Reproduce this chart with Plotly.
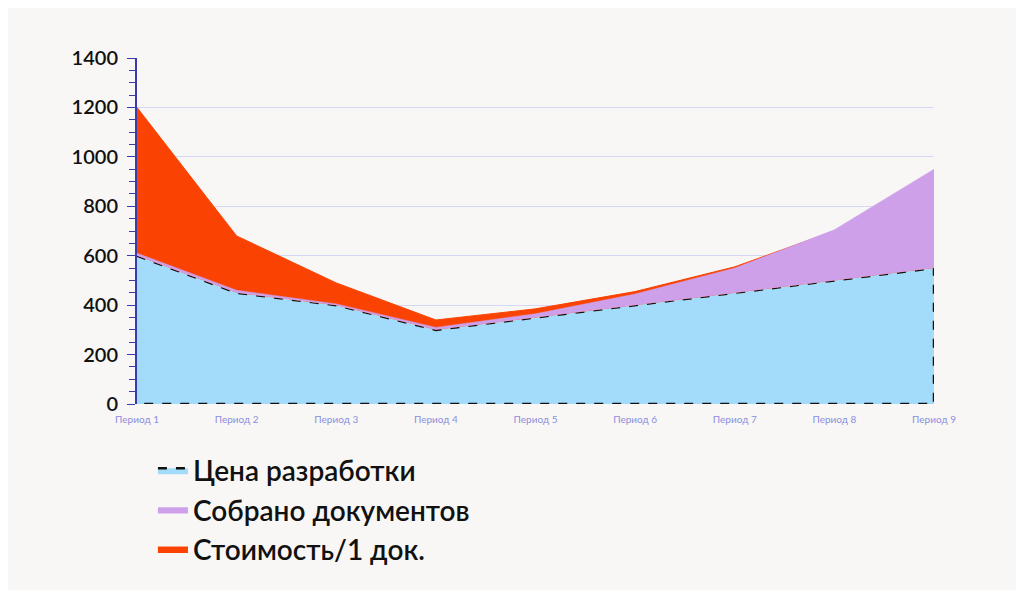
import plotly.graph_objects as go

periods = ["Период 1", "Период 2", "Период 3", "Период 4", "Период 5",
           "Период 6", "Период 7", "Период 8", "Период 9"]
price = [600, 450, 400, 300, 350, 400, 450, 500, 550]
cost_top = [1200, 680, 490, 340, 385, 455, 555, 700, 550]
docs_top = [610, 460, 405, 310, 365, 445, 550, 705, 950]

fig = go.Figure()

# blue area, closed along the bottom so the dashed outline goes all the way round
fig.add_trace(go.Scatter(
    x=periods + [periods[-1], periods[0]], y=price + [0, 0],
    fill="toself", fillcolor="#a3dcfa", mode="lines",
    line=dict(color="#111111", width=2.5, dash="dash"),
    name="Цена разработки", legendrank=1))

# red on blue
fig.add_trace(go.Scatter(x=periods, y=price, mode="lines", line=dict(width=0),
                         showlegend=False, hoverinfo="skip"))
fig.add_trace(go.Scatter(x=periods, y=cost_top, mode="lines", fill="tonexty",
                         fillcolor="#fa4303", line=dict(color="#fa4303", width=1),
                         name="Стоимость/1 док.", legendrank=3))

# purple on blue, drawn on top
fig.add_trace(go.Scatter(x=periods, y=price, mode="lines", line=dict(width=0),
                         showlegend=False, hoverinfo="skip"))
fig.add_trace(go.Scatter(x=periods, y=docs_top, mode="lines", fill="tonexty",
                         fillcolor="#cfa0ea", line=dict(color="#cfa0ea", width=0.5),
                         name="Собрано документов", legendrank=2))

fig.update_layout(
    width=1024, height=590,
    paper_bgcolor="#f8f7f5", plot_bgcolor="#f8f7f5",
    margin=dict(l=129, r=98, t=50, b=194),
    font=dict(family="Lato, Open Sans, sans-serif", color="#111111"),
    legend=dict(orientation="h", x=0.02, y=-0.12, xanchor="left", yanchor="top",
                entrywidth=380, font=dict(size=28, weight=600), itemwidth=30,
                traceorder="normal"),
)
fig.update_xaxes(range=[0, 8], showgrid=False, zeroline=False,
                 tickfont=dict(size=10, color="#8b8ee0"), ticks="outside",
                 ticklen=6, tickcolor="rgba(0,0,0,0)")
fig.update_yaxes(range=[0, 1400], dtick=200, gridcolor="#d6d6f5", gridwidth=1,
                 zeroline=False, showline=True, linecolor="#3b3bb0", linewidth=2,
                 ticks="outside", ticklen=8, tickcolor="#3b3bb0", ticksuffix=" ",
                 tickfont=dict(size=20, color="#111111", weight=600),
                 minor=dict(dtick=50, ticks="outside", ticklen=6, tickcolor="#3b3bb0"))

fig.write_html("out.html")
